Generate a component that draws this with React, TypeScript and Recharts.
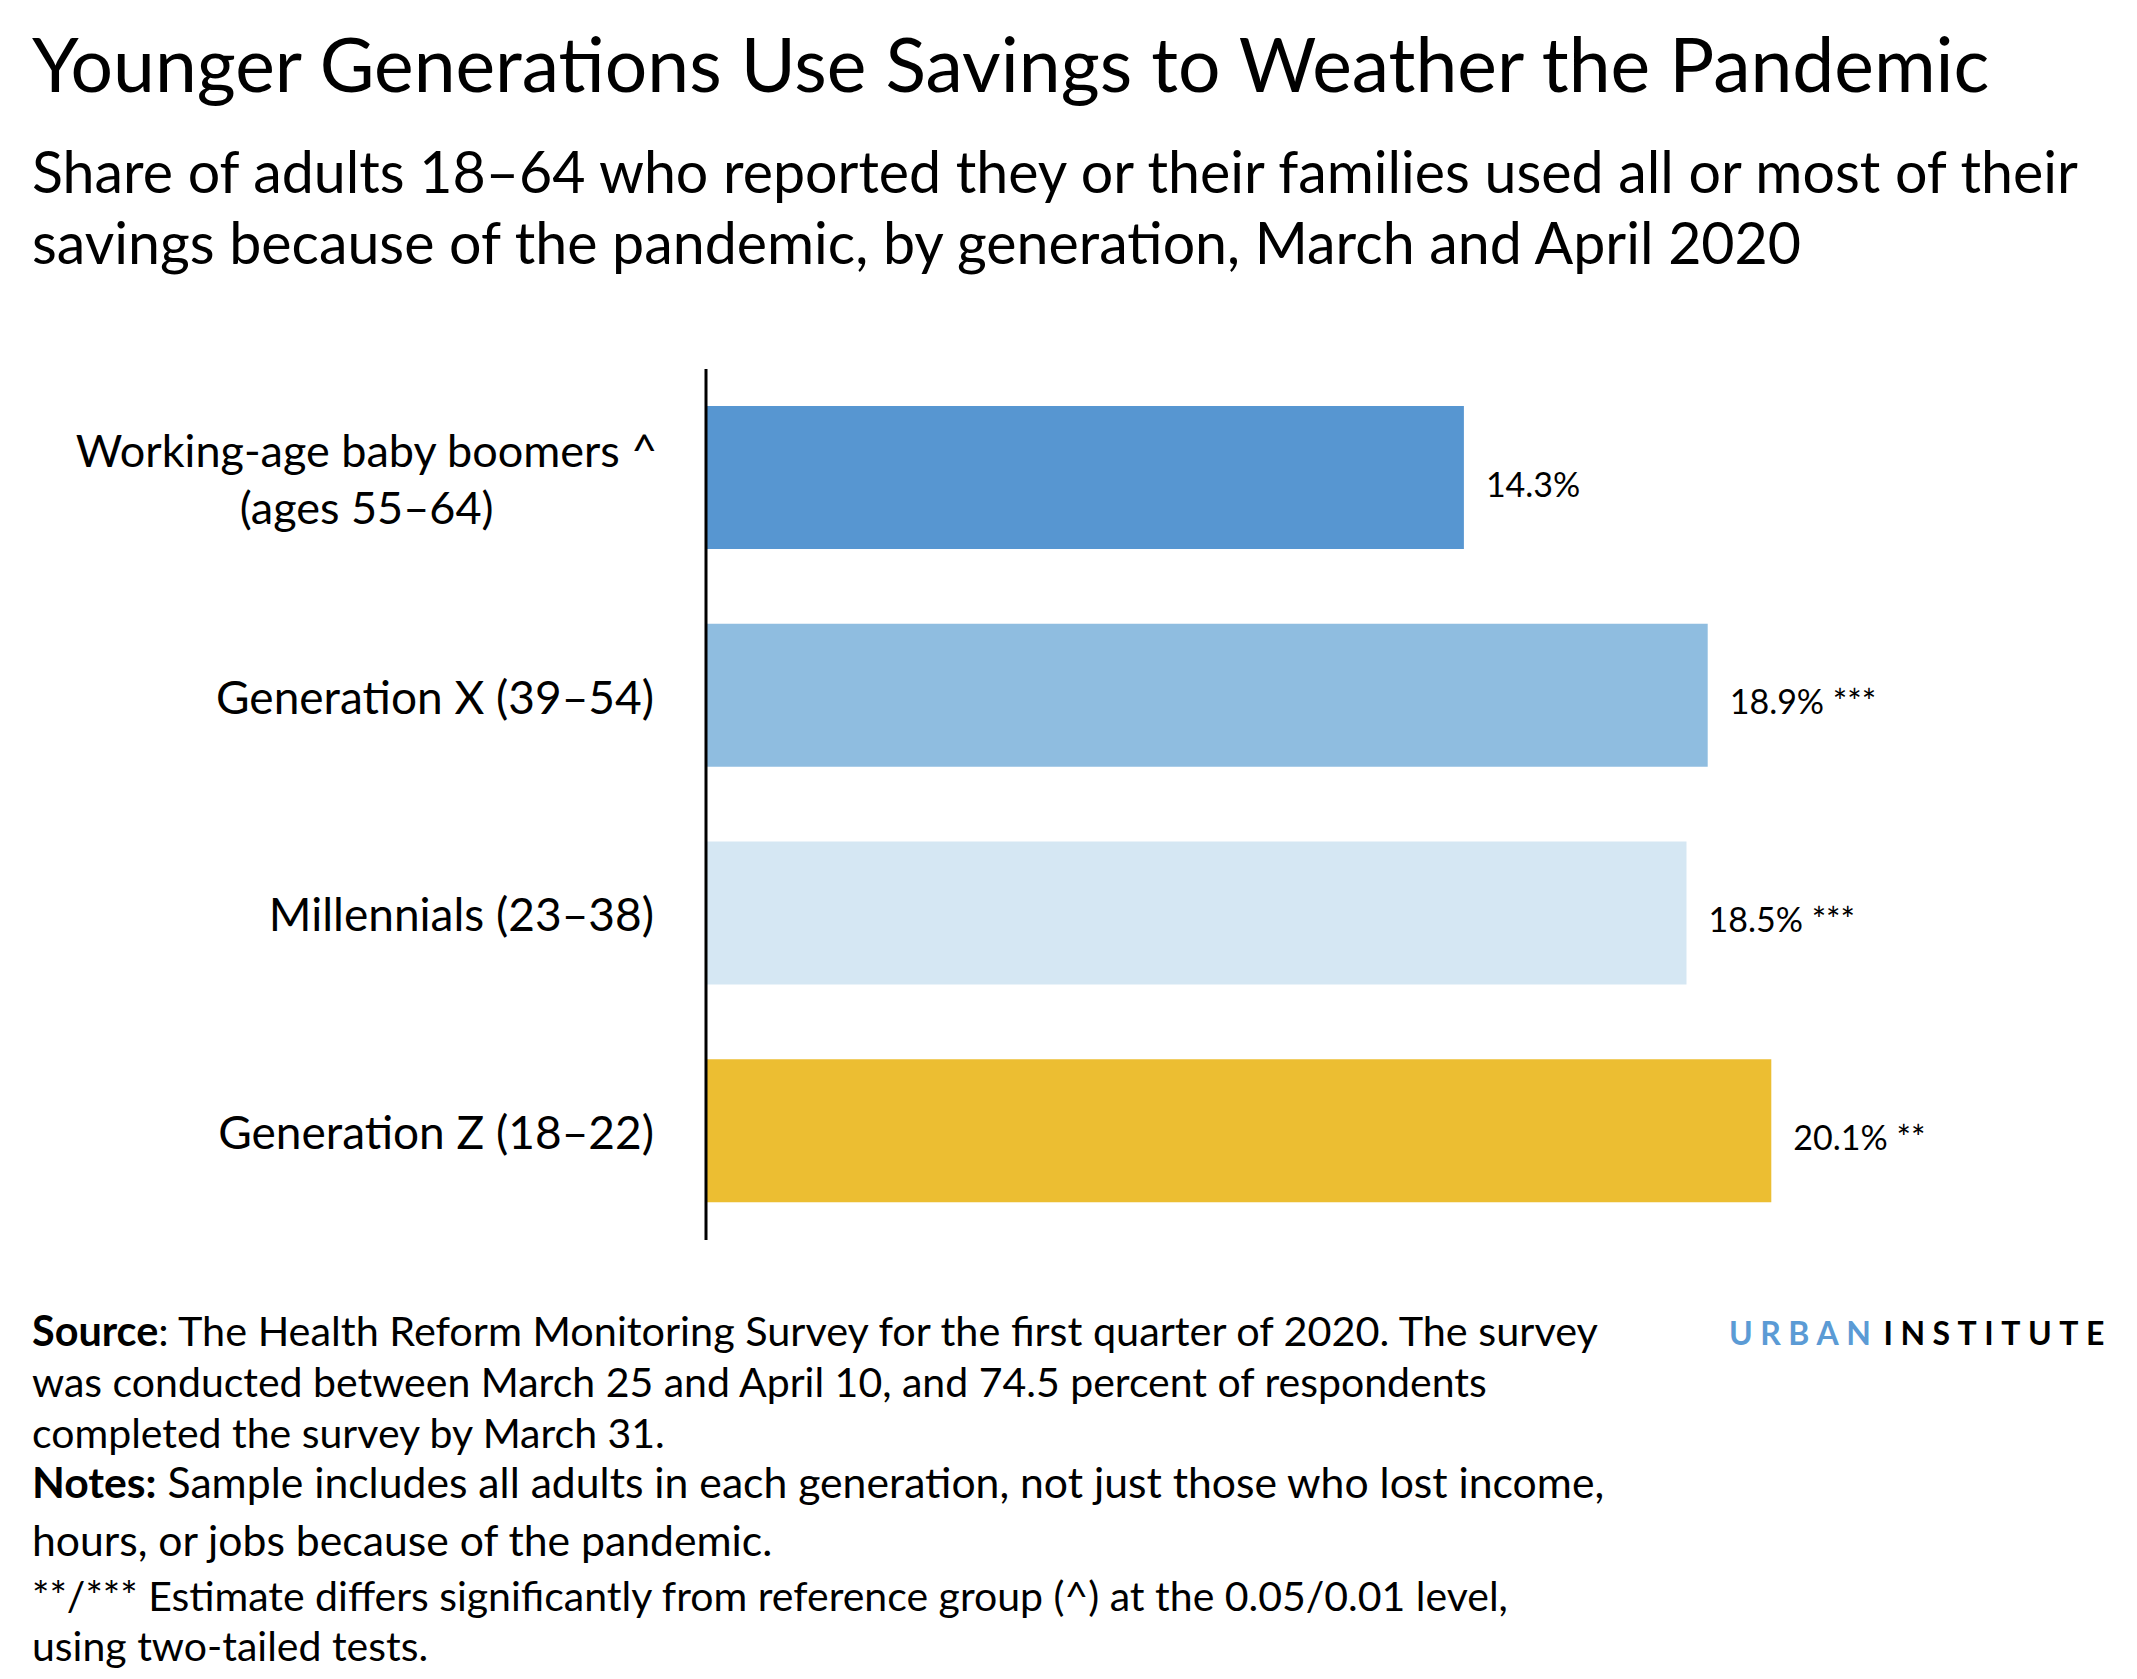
import { Bar, BarChart, Cell, LabelList, XAxis, YAxis } from "recharts";

const generations = [
  "Working-age baby boomers ^\n(ages 55–64)",
  "Generation X (39–54)",
  "Millennials (23–38)",
  "Generation Z (18–22)",
];
const savingsShare = [14.3, 18.9, 18.5, 20.1];
const significance = ["", "***", "***", "**"];

const barColors = ["#5796d1", "#8fbde0", "#d5e7f3", "#ecbe32"];

const title = "Younger Generations Use Savings to Weather the Pandemic";
const subtitle = [
  "Share of adults 18–64 who reported they or their families used all or most of their",
  "savings because of the pandemic, by generation, March and April 2020",
];

const data = generations.map((name, i) => ({
  name,
  value: savingsShare[i],
  sig: significance[i],
}));

const FONT = "Lato, 'Noto Sans', sans-serif";

function measure(text: string, size: number) {
  const ctx = document.createElement("canvas").getContext("2d");
  if (!ctx) return text.length * size * 0.48;
  ctx.font = `${size}px Lato`;
  return ctx.measureText(text).width;
}

function CategoryTick(props: any) {
  const { x, y, payload } = props;
  const lines = String(payload.value).split("\n");
  const size = 46;
  if (lines.length === 1) {
    return (
      <text x={x} y={y} dy={18} textAnchor="end" fontSize={size} fontFamily={FONT} fill="#000">
        {lines[0]}
      </text>
    );
  }
  // block is right-aligned, lines are centred inside it
  const w = Math.max(...lines.map((l) => measure(l, 45)));
  const lh = 57;
  const top = y - ((lines.length - 1) * lh) / 2;
  return (
    <g>
      {lines.map((l, i) => (
        <text
          key={i}
          x={x + 4 - w / 2}
          y={top + i * lh}
          dy={18}
          textAnchor="middle"
          fontSize={45}
          fontFamily={FONT}
          fill="#000"
        >
          {l}
        </text>
      ))}
    </g>
  );
}

function ValueLabel(props: any) {
  const { x, y, width, height, value, index } = props;
  const sig = data[index]?.sig;
  return (
    <text x={x + width + 22} y={y + height / 2} dy={19} fontSize={34} fontFamily={FONT} fill="#000">
      {`${value.toFixed(1)}%${sig ? " " + sig : ""}`}
    </text>
  );
}

export default function App() {
  return (
    <div
      style={{
        position: "absolute",
        left: 0,
        top: 0,
        width: 2137,
        height: 1679,
        background: "#fff",
        fontFamily: FONT,
      }}
    >
      <svg width={2137} height={1679} style={{ position: "absolute", left: 0, top: 0 }}>
        <text x={32} y={92} fontSize={75} fontFamily={FONT} fill="#000">
          {title}
        </text>
        {subtitle.map((s, i) => (
          <text key={i} x={32} y={193 + i * 71} fontSize={57.3} fontFamily={FONT} fill="#000">
            {s}
          </text>
        ))}
        <g fontFamily={FONT} fill="#000">
          <text x={32} y={1346} fontSize={41.4}>
            <tspan fontWeight="bold">Source</tspan>
            <tspan>: The Health Reform Monitoring Survey for the first quarter of 2020. The survey</tspan>
          </text>
          <text x={32} y={1397} fontSize={41}>
            was conducted between March 25 and April 10, and 74.5 percent of respondents
          </text>
          <text x={32} y={1448} fontSize={41}>
            completed the survey by March 31.
          </text>
          <text x={32} y={1498} fontSize={42.7}>
            <tspan fontWeight="bold">Notes:</tspan>
            <tspan> Sample includes all adults in each generation, not just those who lost income,</tspan>
          </text>
          <text x={32} y={1556} fontSize={42.7}>
            hours, or jobs because of the pandemic.
          </text>
          <text x={32} y={1611} fontSize={41}>
            **/*** Estimate differs significantly from reference group (^) at the 0.05/0.01 level,
          </text>
          <text x={32} y={1661} fontSize={41}>
            using two-tailed tests.
          </text>
        </g>
        <text x={1729} y={1345} fontSize={32} fontWeight="bold" fontFamily={FONT} letterSpacing={7.5}>
          <tspan fill="#5b9bd5">URBAN</tspan>
          <tspan fill="#000" dx={5}>INSTITUTE</tspan>
        </text>
      </svg>
      <div style={{ position: "absolute", left: 0, top: 0 }}>
        <BarChart
          width={2137}
          height={1679}
          data={data}
          layout="vertical"
          margin={{ top: 369, right: 106, bottom: 439, left: 0 }}
          barCategoryGap={73}
        >
          <XAxis type="number" domain={[0, 25]} hide />
          <YAxis
            type="category"
            dataKey="name"
            width={706}
            axisLine={{ stroke: "#000", strokeWidth: 3 }}
            tickLine={false}
            tickSize={0}
            tickMargin={52}
            tick={<CategoryTick />}
            interval={0}
          />
          <Bar dataKey="value" barSize={143} isAnimationActive={false}>
            {data.map((d, i) => (
              <Cell key={d.name} fill={barColors[i]} />
            ))}
            <LabelList dataKey="value" content={<ValueLabel />} />
          </Bar>
        </BarChart>
      </div>
    </div>
  );
}
